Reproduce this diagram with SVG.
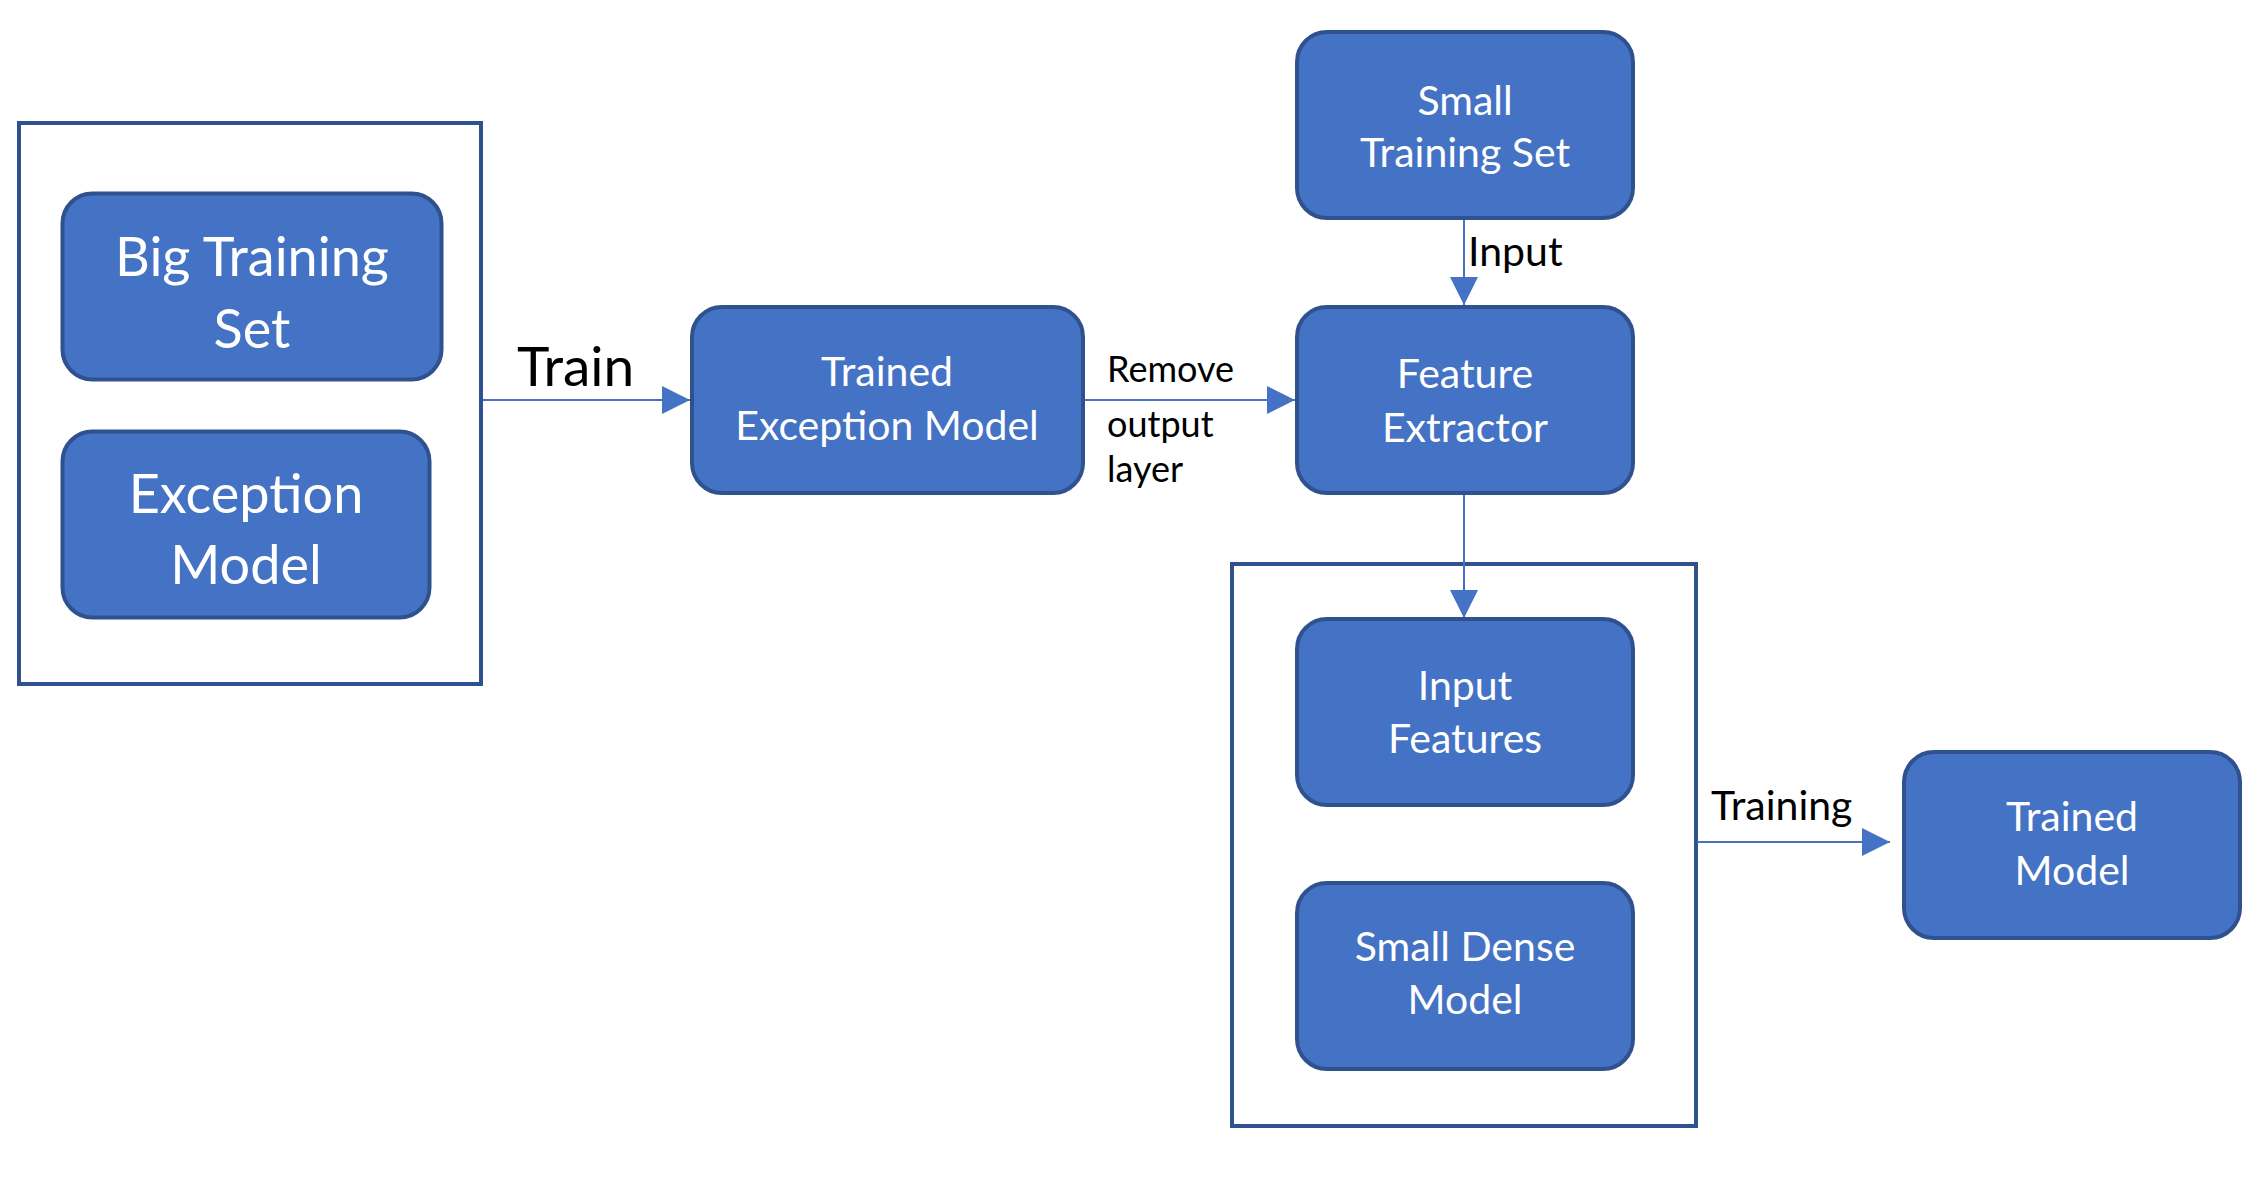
<svg xmlns="http://www.w3.org/2000/svg" width="2268" height="1194" viewBox="0 0 2268 1194">
<style>
.grp{fill:#ffffff;stroke:#2F528F;stroke-width:4}
.node rect{fill:#4472C4;stroke:#2F528F;stroke-width:4}
.nt{fill:#ffffff;font-family:Lato,"Liberation Sans",sans-serif;font-size:41px;text-anchor:middle}
.bt{fill:#ffffff;font-family:Lato,"Liberation Sans",sans-serif;font-size:54px;text-anchor:middle}
.lbl{fill:#000000;font-family:Lato,"Liberation Sans",sans-serif}
.conn line{stroke:#4472C4;stroke-width:2;fill:none}
</style>
<defs>
<marker id="arr" markerUnits="userSpaceOnUse" markerWidth="28" markerHeight="28" refX="28" refY="14" orient="auto" viewBox="0 0 28 28">
<path d="M0,0 L28,14 L0,28 Z" fill="#4472C4"/>
</marker>
</defs>
<rect width="2268" height="1194" fill="#ffffff"/>
<g id="group-left"><rect class="grp" x="19" y="123" width="462" height="561"/></g>
<g id="group-right"><rect class="grp" x="1232" y="564" width="464" height="562"/></g>
<g id="connectors" class="conn">
<line x1="483" y1="400" x2="690" y2="400" marker-end="url(#arr)"/>
<line x1="1084" y1="400" x2="1295" y2="400" marker-end="url(#arr)"/>
<line x1="1464" y1="219" x2="1464" y2="305" marker-end="url(#arr)"/>
<line x1="1464" y1="494" x2="1464" y2="618" marker-end="url(#arr)"/>
<line x1="1697" y1="842" x2="1890" y2="842" marker-end="url(#arr)"/>
</g>
<g id="labels">
<text class="lbl" x="517" y="386" font-size="55">Train</text>
<text class="lbl" x="1107" y="382" font-size="36">Remove</text>
<text class="lbl" x="1107" y="437" font-size="36">output</text>
<text class="lbl" x="1107" y="482" font-size="36">layer</text>
<text class="lbl" x="1468" y="266" font-size="41">Input</text>
<text class="lbl" x="1711" y="820" font-size="41">Training</text>
</g>
<g id="big-training-set" class="node"><rect x="62.5" y="193.5" width="379" height="186" rx="30"/>
<text class="bt" x="252" y="276">Big Training</text><text class="bt" x="252" y="348">Set</text></g>
<g id="exception-model" class="node"><rect x="62.5" y="431.5" width="367" height="186" rx="30"/>
<text class="bt" x="246" y="513">Exception</text><text class="bt" x="246" y="584">Model</text></g>
<g id="trained-exception-model" class="node"><rect x="692" y="307" width="391" height="186" rx="30"/>
<text class="nt" x="887" y="386">Trained</text><text class="nt" x="887" y="440">Exception Model</text></g>
<g id="small-training-set" class="node"><rect x="1297" y="32" width="336" height="186" rx="30"/>
<text class="nt" x="1465" y="115">Small</text><text class="nt" x="1465" y="167">Training Set</text></g>
<g id="feature-extractor" class="node"><rect x="1297" y="307" width="336" height="186" rx="30"/>
<text class="nt" x="1465" y="388">Feature</text><text class="nt" x="1465" y="442">Extractor</text></g>
<g id="input-features" class="node"><rect x="1297" y="619" width="336" height="186" rx="30"/>
<text class="nt" x="1465" y="700">Input</text><text class="nt" x="1465" y="753">Features</text></g>
<g id="small-dense-model" class="node"><rect x="1297" y="883" width="336" height="186" rx="30"/>
<text class="nt" x="1465" y="961">Small Dense</text><text class="nt" x="1465" y="1014">Model</text></g>
<g id="trained-model" class="node"><rect x="1904" y="752" width="336" height="186" rx="30"/>
<text class="nt" x="2072" y="831">Trained</text><text class="nt" x="2072" y="885">Model</text></g>
</svg>
